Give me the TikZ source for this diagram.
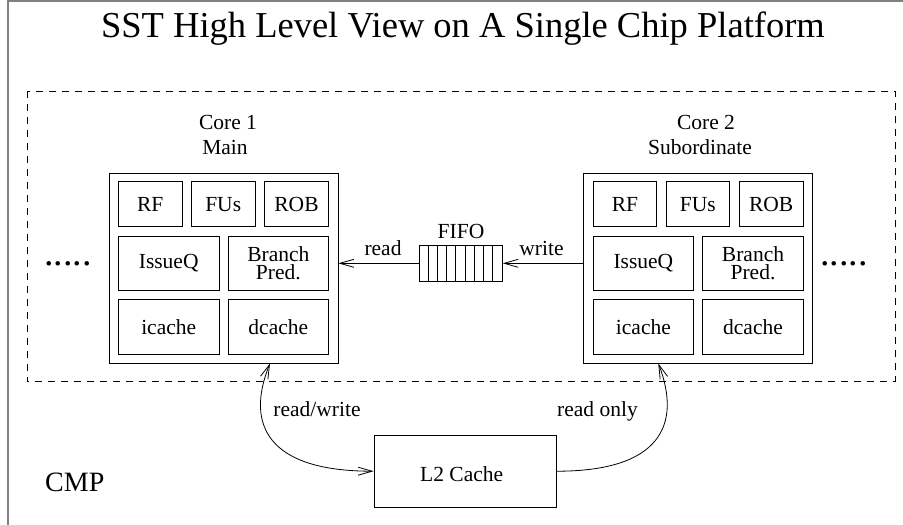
\documentclass[tikz,border=0pt]{standalone}
\usepackage{fontspec}
\setmainfont{Liberation Serif}
\usetikzlibrary{arrows.meta}

\tikzset{
  lbl/.style={font=\fontsize{21.5}{21.5}\selectfont, inner sep=0pt},
  unitbox/.style={draw, line width=0.8pt, inner sep=0pt, font=\fontsize{21.5}{17.5}\selectfont, align=center},
  corebox/.style={draw, line width=0.8pt, inner sep=0pt, minimum width=229pt, minimum height=190pt},
  tip/.style={line width=0.8pt},
  barb/.tip={Straight Barb[length=14pt,width=8pt]},
  dots/.style={font=\fontsize{38}{38}\selectfont, inner sep=0pt, anchor=base west},
}

\begin{document}
\begin{tikzpicture}[x=1pt,y=-1pt]
\useasboundingbox (0,0) rectangle (903,525);

% outer frame
\draw[gray, line width=2pt] (8,525) -- (8,1) -- (903,1);

% title
\node[font=\fontsize{36.5}{36.5}\selectfont, inner sep=0pt, anchor=base] (title) at (463,37)
  {SST High Level View on A Single Chip Platform};

% chip boundary
\draw[line width=0.8pt, dash pattern=on 7pt off 6pt] (27,91) rectangle (895,381.7);

% the two cores with their units
\foreach \c/\ox in {1/109, 2/583.7} {
  \node[corebox] (core\c) at (\ox+114.5,268) {};
  \node[unitbox, minimum width=63.7pt, minimum height=45pt] (rf\c)  at (\ox+41.2,204.2) {RF};
  \node[unitbox, minimum width=63.7pt, minimum height=45pt] (fus\c) at (\ox+114.2,204.2) {FUs};
  \node[unitbox, minimum width=64.4pt, minimum height=45pt] (rob\c) at (\ox+187.5,204.2) {ROB};
  \node[unitbox, minimum width=100.7pt, minimum height=54.7pt] (iq\c) at (\ox+59.7,263.3) {IssueQ};
  \node[unitbox, minimum width=100.7pt, minimum height=54.7pt] (bp\c) at (\ox+169.3,263.3) {Branch\\Pred.};
  \node[unitbox, minimum width=100.7pt, minimum height=54.7pt] (ic\c) at (\ox+59.7,326.7) {icache};
  \node[unitbox, minimum width=100.7pt, minimum height=54.7pt] (dc\c) at (\ox+169.3,326.7) {dcache};
}

% core captions
\node[lbl, anchor=base] (c1a) at (228,129.5) {Core 1};
\node[lbl, anchor=base] (c1b) at (225,154.3) {Main};
\node[lbl, anchor=base] (c2a) at (706,129.5) {Core 2};
\node[lbl, anchor=base] (c2b) at (700,154.3) {Subordinate};

% further cores on either side
\node[dots] (dl) at (44,265) {.....};
\node[dots] (dr) at (820,265) {.....};

% FIFO between the cores
\node[draw, line width=0.8pt, minimum width=83pt, minimum height=36.7pt, inner sep=0pt] (fifo) at (460.8,263.3) {};
\foreach \k in {1,...,8}
  \draw[line width=0.8pt] ([xshift=\k*9.22pt]fifo.north west) -- ([xshift=\k*9.22pt]fifo.south west);
\node[lbl, anchor=base] (fifol) at (461,238) {FIFO};

\draw[tip, -barb] (fifo.east -| core2.west) -- (fifo.east);
\draw[tip, -barb] (fifo.west) -- (fifo.west -| core1.east);
\node[lbl, anchor=base] (rdl) at (383,255) {read};
\node[lbl, anchor=base] (wrl) at (541.5,255) {write};

% shared L2 cache
\node[draw, line width=0.8pt, minimum width=182.7pt, minimum height=72.3pt, inner sep=0pt] (l2) at (465.3,471.2) {};
\node[lbl, anchor=base] (l2l) at (461.7,481.7) {L2 Cache};

\coordinate (p1) at ([xshift=46.5pt]core1.south);
\coordinate (p2) at ([xshift=-39.9pt]core2.south);
\draw[tip, barb-barb] (p1) .. controls (245,425) and (268,471.2) .. (l2.west);
\draw[tip, -barb] (l2.east) .. controls (660,471.2) and (682,425) .. (p2);
\node[lbl, anchor=base] (rwl) at (317,416.7) {read/write};
\node[lbl, anchor=base] (rol) at (597.5,416.7) {read only};

% chip label
\node[font=\fontsize{28}{28}\selectfont, inner sep=0pt, anchor=base west] (cmp) at (45,491) {CMP};
\end{tikzpicture}
\end{document}
